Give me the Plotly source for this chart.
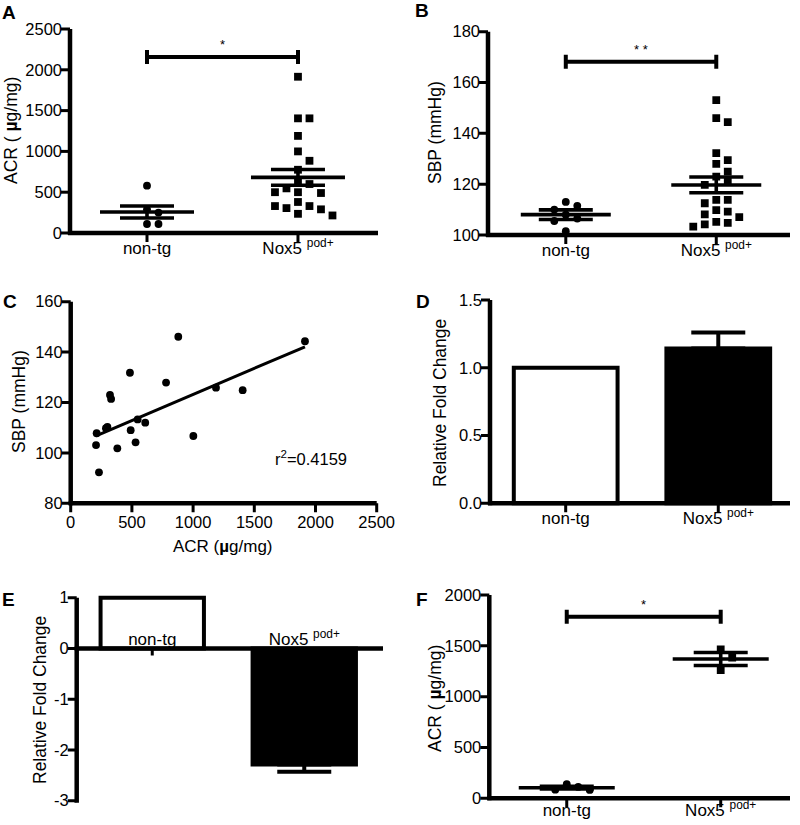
import plotly.graph_objects as go

W, H = 800, 825
FONT = "Liberation Sans, Arial, sans-serif"

# ---------------- data ----------------
categories = ["non-tg", "Nox5 <sup>pod+</sup>"]

# Panel A: ACR (ug/mg)
A_nontg = [580, 290, 250, 110, 110]
A_nox5 = [1915, 1405, 1405, 1190, 1000, 885, 775, 620, 600, 547, 500, 490, 500,
          380, 330, 305, 290, 330, 235, 215]
A_mean = [257, 682]
A_sem = [73, 96]
A_sig = 2157

# Panel B: SBP (mmHg)
B_nontg = [113, 111.5, 110, 108, 106.5, 105.5, 101.5]
B_nox5 = [153.1, 146, 144.4, 132.2, 129.5, 128, 124.9, 123, 121, 119.7, 113.8,
          113.8, 112.5, 109.8, 109.2, 108.1, 107, 105.2, 104.8, 104.2, 103.3]
B_mean = [108, 119.7]
B_sem = [1.9, 3.1]
B_sig = 168.2

# Panel C: SBP vs ACR
C_acr = [207, 231, 212, 288, 300, 321, 330, 381, 484, 490, 530, 547, 609, 779,
         879, 1002, 1187, 1405, 1914]
C_sbp = [103.1, 92.3, 107.8, 109.8, 110.3, 123, 121.4, 101.8, 131.8, 109, 104.2,
         113.3, 112, 127.9, 146.1, 106.7, 125.9, 124.9, 144.3]
C_fit_slope = 0.0207
C_fit_intercept = 102.5
C_r2 = "0.4159"

# Panel D: relative fold change
D_mean = [1.0, 1.143]
D_sem = [0.0, 0.118]

# Panel E: relative fold change
E_mean = [1.0, -2.286]
E_sem = [0.0, 0.146]

# Panel F: ACR (ug/mg)
F_nontg = [138, 112, 85, 82]
F_nox5 = [1465, 1385, 1262]
F_mean = [104, 1370]
F_sem = [13, 64]
F_sig = 1786

# tick values
C_xticks = [0, 500, 1000, 1500, 2000, 2500]
ytick_specs = {
    "A": ([0, 500, 1000, 1500, 2000, 2500], None),
    "B": ([100, 120, 140, 160, 180], None),
    "C": ([80, 100, 120, 140, 160], None),
    "D": ([0, 0.5, 1.0, 1.5], ["0.0", "0.5", "1.0", "1.5"]),
    "E": ([-3, -2, -1, 0, 1], ["-3", "-2", "-1", "0", "1"]),
    "F": ([0, 500, 1000, 1500, 2000], None),
}

# ---------------- layout geometry (pixels: axis-line positions) ----------------
panels = {
    "A": dict(ax="", xd=(70, 378), yd=(29, 233), xr=[-0.51, 1.53], yr=[0, 2500]),
    "B": dict(ax="2", xd=(488, 790), yd=(31.7, 235), xr=[-0.517, 1.49], yr=[100, 180]),
    "C": dict(ax="3", xd=(70.7, 376.7), yd=(301.7, 503.3), xr=[0, 2500], yr=[80, 160]),
    "D": dict(ax="4", xd=(490, 790), yd=(300, 503.3), xr=[-0.496, 1.47], yr=[0, 1.5]),
    "E": dict(ax="5", xd=(76.7, 383), yd=(597.7, 800.7), xr=[-0.497, 1.518], yr=[-3, 1]),
    "F": dict(ax="6", xd=(489.3, 790), yd=(595, 798.3), xr=[-0.503, 1.45], yr=[0, 2000]),
}
PAD = 10  # the plotting domain is padded so axis lines and ticks sit inside it
TICK_PX = 9


def ppx(p):
    return (p["xd"][1] - p["xd"][0]) / (p["xr"][1] - p["xr"][0])


def ppy(p):
    return (p["yd"][1] - p["yd"][0]) / (p["yr"][1] - p["yr"][0])


def swarm(values, center, p, step_px=11.5, thresh_px=9.5):
    placed = []
    xs = []
    order = [0, 1, -1, 2, -2, 3, -3, 4, -4, 5, -5]
    for v in values:
        ypx = v * ppy(p)
        col = 0
        for c in order:
            if all(not (pc == c and abs(py - ypx) < thresh_px) for pc, py in placed):
                col = c
                break
        placed.append((col, ypx))
        xs.append(center + col * step_px / ppx(p))
    return xs


fig = go.Figure()


def refs(p):
    return dict(xaxis="x" + p["ax"], yaxis="y" + p["ax"])


def add_points(p, vals, center, symbol):
    fig.add_trace(go.Scatter(
        x=swarm(vals, center, p), y=vals, mode="markers",
        marker=dict(symbol=symbol, size=7.8, color="black", line=dict(width=0)),
        showlegend=False, hoverinfo="skip", **refs(p)))


def add_mean_sem(p, means, sems, half_mean_px=47, half_sem_px=27):
    xs, ys = [], []
    hm = half_mean_px / ppx(p)
    hs = half_sem_px / ppx(p)
    for c, (m, s) in enumerate(zip(means, sems)):
        xs += [c - hm, c + hm, None, c - hs, c + hs, None, c - hs, c + hs, None, c, c, None]
        ys += [m, m, None, m + s, m + s, None, m - s, m - s, None, m - s, m + s, None]
    fig.add_trace(go.Scatter(x=xs, y=ys, mode="lines",
                             line=dict(color="black", width=3.6),
                             showlegend=False, hoverinfo="skip", **refs(p)))


def add_sig(p, level, stars, cap_px=7):
    d = cap_px / ppy(p)
    fig.add_trace(go.Scatter(
        x=[0, 0, None, 0, 1, None, 1, 1],
        y=[level - d, level + d, None, level, level, None, level - d, level + d],
        mode="lines", line=dict(color="black", width=4),
        showlegend=False, hoverinfo="skip", **refs(p)))
    fig.add_annotation(x=0.5, y=level, xref="x" + p["ax"], yref="y" + p["ax"],
                       text=stars, showarrow=False, yanchor="bottom", yshift=3,
                       font=dict(family=FONT, size=13, color="black"))


def add_bars(p, means, sems, down=False):
    fills = ["white", "black"]
    for c, (m, s) in enumerate(zip(means, sems)):
        err = None
        if s > 0:
            if down:
                err = dict(type="data", symmetric=False, array=[0], arrayminus=[s],
                           color="black", thickness=4, width=27)
            else:
                err = dict(type="data", symmetric=False, array=[s], arrayminus=[0],
                           color="black", thickness=4, width=27)
        fig.add_trace(go.Bar(x=[c], y=[m], width=0.68,
                             marker=dict(color=fills[c], line=dict(color="black", width=4)),
                             error_y=err, showlegend=False, hoverinfo="skip", **refs(p)))


def add_axis_frame(p, xticks, yticks, x_at_zero=False, xtick_px=TICK_PX):
    """Axis lines and tick marks drawn on the panel's own scales."""
    kx, ky = ppx(p), ppy(p)
    xl, xh = p["xr"]
    yl, yh = p["yr"]
    yx = 0 if x_at_zero else yl
    tx, ty = [], []
    for v in xticks:
        tx += [v, v, None]
        ty += [yx, yx - xtick_px / ky, None]
    for v in yticks:
        tx += [xl, xl - TICK_PX / kx, None]
        ty += [v, v, None]
    fig.add_trace(go.Scatter(x=tx, y=ty, mode="lines",
                             line=dict(color="black", width=3),
                             showlegend=False, hoverinfo="skip", **refs(p)))
    fig.add_trace(go.Scatter(x=[xl - 2 / kx, xh, None, xl, xl],
                             y=[yx, yx, None, yl - 2 / ky, yh], mode="lines",
                             line=dict(color="black", width=4.5),
                             showlegend=False, hoverinfo="skip", **refs(p)))


# Panel A
pA = panels["A"]
add_points(pA, A_nontg, 0, "circle")
add_points(pA, A_nox5, 1, "square")
add_mean_sem(pA, A_mean, A_sem)
add_sig(pA, A_sig, "*")

# Panel B
pB = panels["B"]
add_points(pB, B_nontg, 0, "circle")
add_points(pB, B_nox5, 1, "square")
add_mean_sem(pB, B_mean, B_sem, half_mean_px=45)
add_sig(pB, B_sig, "* *")

# Panel C
pC = panels["C"]
fig.add_trace(go.Scatter(x=C_acr, y=C_sbp, mode="markers",
                         marker=dict(symbol="circle", size=7.8, color="black"),
                         showlegend=False, hoverinfo="skip", **refs(pC)))
fx = [min(C_acr), max(C_acr)]
fig.add_trace(go.Scatter(x=fx, y=[C_fit_intercept + C_fit_slope * v for v in fx],
                         mode="lines", line=dict(color="black", width=3),
                         showlegend=False, hoverinfo="skip", **refs(pC)))

# Panel D
pD = panels["D"]
add_bars(pD, D_mean, D_sem)

# Panel E
pE = panels["E"]
add_bars(pE, E_mean, E_sem, down=True)

# Panel F
pF = panels["F"]
add_points(pF, F_nontg, 0, "circle")
add_points(pF, F_nox5, 1, "square")
add_mean_sem(pF, F_mean, F_sem, half_mean_px=48)
add_sig(pF, F_sig, "*")

# axis frames last, so they sit on top of every mark
add_axis_frame(pA, [0, 1], ytick_specs["A"][0])
add_axis_frame(pB, [0, 1], ytick_specs["B"][0])
add_axis_frame(pC, C_xticks, ytick_specs["C"][0])
add_axis_frame(pD, [0, 1], ytick_specs["D"][0])
add_axis_frame(pE, [0, 1], ytick_specs["E"][0], x_at_zero=True, xtick_px=7)
add_axis_frame(pF, [0, 1], ytick_specs["F"][0])

# ---------------- axes (labels only; lines and ticks are traces) ----------------
base = dict(showline=False, ticks="", showgrid=False, zeroline=False,
            automargin=False, anchor="free",
            tickfont=dict(family=FONT, size=16.5, color="black"), fixedrange=True)

layout = dict(template="none", width=W, height=H, autosize=False,
              margin=dict(l=0, r=0, t=0, b=0, pad=0),
              paper_bgcolor="white", plot_bgcolor="white",
              barmode="overlay", showlegend=False,
              font=dict(family=FONT, color="black"))

x_standoff = {"A": 3, "B": 3, "C": 7, "D": 3, "F": 0}

for key, p in panels.items():
    a = p["ax"]
    kx, ky = ppx(p), ppy(p)
    x0px, x1px = p["xd"]
    ytop, ybot = p["yd"]
    xr = [p["xr"][0] - PAD / kx, p["xr"][1] + PAD / kx]
    yr = [p["yr"][0] - PAD / ky, p["yr"][1] + PAD / ky]
    xdomain = [(x0px - PAD) / W, (x1px + PAD) / W]
    ydomain = [1 - (ybot + PAD) / H, 1 - (ytop - PAD) / H]

    xa = dict(base, domain=xdomain, range=xr)
    if key == "C":
        xa.update(tickvals=C_xticks)
    else:
        xa.update(tickvals=[0, 1], ticktext=categories,
                  tickfont=dict(family=FONT, size=17, color="black"))
    if key == "E":
        zero_px = ybot - (0 - p["yr"][0]) * ky
        xa.update(position=1 - zero_px / H, side="top", ticklabelstandoff=0)
    else:
        xa.update(position=1 - ybot / H, ticklabelstandoff=x_standoff[key])

    tv, tt = ytick_specs[key]
    ya = dict(base, domain=ydomain, range=yr, position=x0px / W, tickvals=tv,
              ticklabelstandoff=8)
    if tt is not None:
        ya.update(ticktext=tt)
    layout["xaxis" + a] = xa
    layout["yaxis" + a] = ya

fig.update_layout(**layout)


# ---------------- text annotations ----------------
def paper_text(text, xpx, ypx, size=17.5, angle=0, bold=False, xanchor="center"):
    fig.add_annotation(x=xpx / W, y=1 - ypx / H, xref="paper", yref="paper",
                       text=("<b>%s</b>" % text) if bold else text, showarrow=False,
                       textangle=angle, xanchor=xanchor, yanchor="middle",
                       font=dict(family=FONT, size=size, color="black"))


acr_title = "ACR ( <b>µ</b>g/mg)"
paper_text(acr_title, 11, 131, angle=-90)
paper_text("SBP (mmHg)", 435, 132, angle=-90)
paper_text("SBP (mmHg)", 19, 402, angle=-90)
paper_text("ACR (<b>µ</b>g/mg)", 222.5, 546, size=17)
paper_text("Relative Fold Change", 440, 403, angle=-90)
paper_text("Relative Fold Change", 40, 700, angle=-90)
paper_text(acr_title, 435, 698, angle=-90)
paper_text("r<sup>2</sup>=" + C_r2, 273, 458, size=16.5, xanchor="left")

for letter, (lx, ly) in {"A": (9, 13), "B": (422, 11), "C": (9.5, 301),
                         "D": (423, 301), "E": (8.5, 599), "F": (422.5, 599.5)}.items():
    paper_text(letter, lx, ly, size=19, bold=True)

fig.write_html("out.html",
               config={"displayModeBar": False, "staticPlot": True},
               post_script="document.body.style.margin='0px';"
                           "document.body.style.padding='0px';")
